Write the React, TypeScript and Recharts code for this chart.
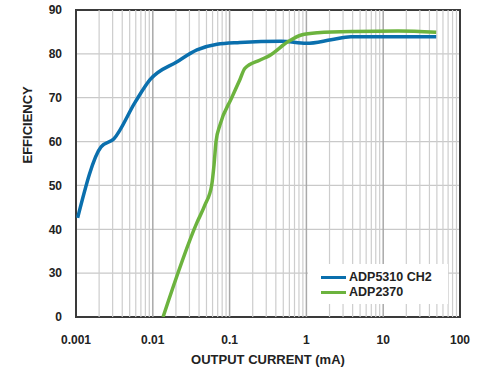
import React from 'react';
import { LineChart, Line, XAxis, YAxis, CartesianGrid, ReferenceLine, ReferenceArea } from 'recharts';

// output current (mA) / efficiency (%)
const adp5310X = [0.00105, 0.00212, 0.0031, 0.0059, 0.0092, 0.0207, 0.0376, 0.0686, 0.136, 0.47, 1.0, 2.1, 3.8, 49];
const adp5310Y = [42.6, 58.8, 60.6, 69.0, 74.1, 78.2, 80.9, 82.2, 82.6, 82.9, 82.4, 83.2, 83.9, 83.9];

const adp2370X = [0.0136, 0.0373, 0.0479, 0.0585, 0.0627, 0.0666, 0.075, 0.106, 0.136, 0.158, 0.25, 0.33, 0.58, 0.86, 1.4, 4.3, 15.6, 49];
const adp2370Y = [0, 41.4, 45.6, 50.1, 54.7, 60.0, 63.8, 69.9, 74.1, 76.7, 78.6, 79.6, 82.8, 84.3, 84.8, 85.1, 85.2, 84.9];

const xTicks = [0.001, 0.01, 0.1, 1, 10, 100];
const xTickLabels = ['0.001', '0.01', '0.1', '1', '10', '100'];
const yTickLabels = [0, 30, 40, 50, 60, 70, 80, 90];

// axis is broken between 0 and 30: "0" sits one grid step below 30
const toPlot = (v: number) => (v >= 30 ? v : 20 + v / 3);
const yTicks = yTickLabels.map(toPlot);

const blueData = adp5310X.map((x, i) => ({ x, y: toPlot(adp5310Y[i]) }));
const greenData = adp2370X.map((x, i) => ({ x, y: toPlot(adp2370Y[i]) }));

const minorX: number[] = [];
[0.001, 0.01, 0.1, 1, 10].forEach(d => {
  for (let k = 2; k <= 9; k++) minorX.push(+(d * k).toPrecision(3));
});

const BLUE = '#0a6fad';
const GREEN = '#6cb33e';
const FONT = '"Liberation Sans", Arial, sans-serif';

export default function App() {
  return (
    <div style={{ position: 'absolute', left: 0, top: 0, width: 477, height: 370, background: '#fff', fontFamily: FONT }}>
      <LineChart width={477} height={370} margin={{ top: 10, right: 17, bottom: 0, left: 0 }}>
        <CartesianGrid vertical={false} stroke="#c9c9c9" strokeWidth={1.2} />
        {minorX.map(v => (
          <ReferenceLine key={v} x={v} stroke="#cdcdcd" strokeWidth={1.2} ifOverflow="hidden" />
        ))}
        {xTicks.slice(1, -1).map(v => (
          <ReferenceLine key={'d' + v} x={v} stroke="#a9a9a9" strokeWidth={1.5} />
        ))}
        <XAxis
          type="number"
          dataKey="x"
          scale="log"
          domain={[0.001, 100]}
          ticks={xTicks}
          tickFormatter={(v: number) => xTickLabels[xTicks.indexOf(v)] ?? String(v)}
          allowDataOverflow
          height={53}
          axisLine={false}
          tickLine={false}
          tick={{ fill: '#222', fontSize: 12, fontWeight: 700, fontFamily: FONT }}
          tickMargin={12}
          label={{ value: 'OUTPUT CURRENT (mA)', position: 'insideBottom', offset: 6, fill: '#222', fontSize: 13, fontWeight: 700, fontFamily: FONT }}
        />
        <YAxis
          type="number"
          domain={[20, 90]}
          ticks={yTicks}
          tickFormatter={(v: number) => String(yTickLabels[yTicks.indexOf(v)])}
          width={76}
          allowDataOverflow
          axisLine={false}
          tickLine={false}
          tick={{ fill: '#222', fontSize: 12, fontWeight: 700, fontFamily: FONT }}
          tickMargin={8}
          label={{ value: 'EFFICIENCY', angle: -90, position: 'insideLeft', offset: 27, fill: '#222', fontSize: 13, fontWeight: 700, fontFamily: FONT }}
        />
        <Line
          data={blueData}
          dataKey="y"
          type="monotone"
          stroke={BLUE}
          strokeWidth={3.5}
          dot={false}
          isAnimationActive={false}
          name="ADP5310 CH2"
        />
        <Line
          data={greenData}
          dataKey="y"
          type="monotone"
          stroke={GREEN}
          strokeWidth={3.5}
          dot={false}
          isAnimationActive={false}
          name="ADP2370"
        />
        <ReferenceArea x1={0.001} x2={100} y1={20} y2={90} fill="none" stroke="#3a3a3a" strokeWidth={2} />
      </LineChart>
      <div
        style={{
          position: 'absolute', left: 308, top: 264, width: 140, height: 40, background: '#fff',
          fontSize: 12.5, fontWeight: 700, color: '#222', lineHeight: '15px', paddingTop: 6, boxSizing: 'border-box'
        }}
      >
        {[['ADP5310 CH2', BLUE], ['ADP2370', GREEN]].map(([name, c]) => (
          <div key={name} style={{ display: 'flex', alignItems: 'center' }}>
            <span style={{ display: 'inline-block', width: 25, height: 3, background: c, marginLeft: 13, marginRight: 3 }} />
            <span>{name}</span>
          </div>
        ))}
      </div>
    </div>
  );
}
